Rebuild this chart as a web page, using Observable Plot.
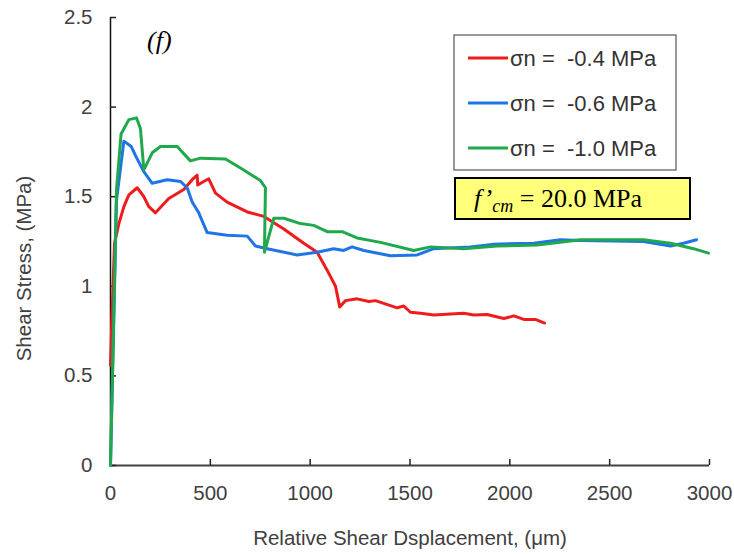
<!DOCTYPE html>
<html>
<head>
<meta charset="utf-8">
<script src="https://cdn.jsdelivr.net/npm/d3@7"></script>
<script src="https://cdn.jsdelivr.net/npm/@observablehq/plot@0.6"></script>
<style>
  html, body { margin: 0; padding: 0; background: #fff; }
  #chart svg { display: block; }
</style>
</head>
<body>
<div id="chart"></div>
<script>
// ---- data ----
const xTicks = [0, 500, 1000, 1500, 2000, 2500, 3000];
const yTicks = [0, 0.5, 1, 1.5, 2, 2.5];
const yTickLabels = ["0", "0.5", "1", "1.5", "2", "2.5"];
const seriesNames = ["σn =  -0.4 MPa", "σn =  -0.6 MPa", "σn =  -1.0 MPa"];
const seriesColors = ["#ef1c1c", "#1f74e6", "#1fa84c"];

const redDisp   = [0, 8, 20, 42, 67, 92, 134, 167, 192, 225, 292, 367, 409, 434, 437, 467, 492, 526, 584, 685, 768, 868, 968, 1035, 1085, 1127, 1148, 1177, 1235, 1294, 1327, 1436, 1469, 1502, 1553, 1619, 1769, 1820, 1886, 1970, 2020, 2070, 2128, 2174];
const redStress = [0.56, 0.85, 1.24, 1.35, 1.445, 1.51, 1.55, 1.50, 1.445, 1.41, 1.49, 1.54, 1.595, 1.62, 1.565, 1.585, 1.60, 1.52, 1.47, 1.415, 1.39, 1.32, 1.24, 1.19, 1.09, 1.00, 0.885, 0.92, 0.93, 0.915, 0.92, 0.88, 0.89, 0.855, 0.85, 0.84, 0.85, 0.84, 0.843, 0.82, 0.835, 0.815, 0.815, 0.795];

const blueDisp   = [0, 30, 67, 104, 125, 167, 209, 284, 351, 384, 409, 442, 484, 584, 685, 726, 785, 935, 1035, 1118, 1168, 1210, 1269, 1402, 1536, 1619, 1803, 1920, 2120, 2254, 2354, 2670, 2805, 2870, 2935];
const blueStress = [0, 1.48, 1.81, 1.78, 1.73, 1.64, 1.575, 1.595, 1.585, 1.55, 1.47, 1.41, 1.30, 1.285, 1.28, 1.225, 1.21, 1.175, 1.19, 1.21, 1.20, 1.22, 1.20, 1.17, 1.175, 1.21, 1.22, 1.235, 1.24, 1.26, 1.255, 1.25, 1.225, 1.24, 1.26];

const greenDisp   = [0, 30, 53, 92, 130, 150, 167, 209, 250, 334, 400, 451, 576, 651, 751, 776, 771, 818, 868, 951, 1018, 1085, 1160, 1235, 1352, 1519, 1603, 1769, 1936, 2137, 2354, 2504, 2670, 2805, 2920, 2995];
const greenStress = [0, 1.54, 1.85, 1.93, 1.94, 1.88, 1.65, 1.745, 1.78, 1.78, 1.70, 1.715, 1.71, 1.66, 1.59, 1.55, 1.19, 1.38, 1.38, 1.35, 1.34, 1.305, 1.305, 1.27, 1.245, 1.20, 1.22, 1.21, 1.225, 1.23, 1.26, 1.26, 1.26, 1.24, 1.21, 1.185];

const xTitle = "Relative Shear Dsplacement, (μm)";
const yTitle = "Shear Stress, (MPa)";
const panelLabel = "(f)";

// ---- build tables ----
const toRows = (xs, ys, s) => xs.map((x, i) => ({x, y: ys[i], s}));
const rows = [
  ...toRows(redDisp, redStress, seriesNames[0]),
  ...toRows(blueDisp, blueStress, seriesNames[1]),
  ...toRows(greenDisp, greenStress, seriesNames[2])
];

const sans = "'Liberation Sans', Arial, sans-serif";
const serif = "'Liberation Serif', 'Times New Roman', serif";
const labelColor = "#404040";
const axisFont = 20.5;

const chart = Plot.plot({
  width: 734,
  height: 554,
  marginLeft: 110,
  marginRight: 25,
  marginTop: 17,
  marginBottom: 89,
  style: {fontFamily: sans, background: "#fff", overflow: "visible"},
  x: {domain: [0, 3000]},
  y: {domain: [0, 2.5]},
  color: {domain: seriesNames, range: seriesColors},
  marks: [
    Plot.ruleY([0], {stroke: "#404040", strokeWidth: 2}),
    Plot.ruleX([0], {stroke: "#111", strokeWidth: 1.5}),
    // inward tick marks
    Plot.ruleX(xTicks, {x: (d) => d, y1: 0, y2: 0, insetTop: -6, stroke: "#222", strokeWidth: 1.5}),
    Plot.ruleY(yTicks, {y: (d) => d, x1: 0, x2: 0, insetRight: -6, stroke: "#222", strokeWidth: 1.5}),
    // tick labels
    Plot.axisX(xTicks, {tickSize: 0, tickPadding: 20, fontSize: axisFont, fill: labelColor, label: null,
      tickFormat: (d) => String(d)}),
    Plot.axisY(yTicks, {tickSize: 0, tickPadding: 18, fontSize: axisFont, fill: labelColor, label: null,
      tickFormat: (d) => yTickLabels[yTicks.indexOf(d)]}),
    Plot.line(rows, {x: "x", y: "y", z: "s", stroke: "s", strokeWidth: 3, strokeLinejoin: "round", strokeLinecap: "round"}),
    Plot.text([xTitle], {frameAnchor: "bottom", dy: 73, lineAnchor: "middle", textAnchor: "middle",
      fontSize: axisFont, fill: labelColor, text: (d) => d}),
    Plot.text([yTitle], {frameAnchor: "left", dx: -86, dy: 27, rotate: -90, textAnchor: "middle", lineAnchor: "middle",
      fontSize: axisFont, fill: labelColor, text: (d) => d})
  ]
});

document.getElementById("chart").appendChild(chart);

// ---- annotations: panel label, legend, strength box ----
const svg = d3.select(chart);
svg.append("text")
  .attr("x", 147).attr("y", 49)
  .attr("text-anchor", "start")
  .attr("font-family", serif).attr("font-style", "italic").attr("font-size", 26)
  .attr("fill", "#000")
  .text(panelLabel);

const lg = svg.append("g");
lg.append("rect")
  .attr("x", 454).attr("y", 35).attr("width", 222).attr("height", 135)
  .attr("fill", "#fff").attr("stroke", "#555").attr("stroke-width", 1.2);
seriesNames.forEach((name, i) => {
  const cy = 58 + i * 45;
  lg.append("line")
    .attr("x1", 468).attr("x2", 508).attr("y1", cy).attr("y2", cy)
    .attr("stroke", seriesColors[i]).attr("stroke-width", 3);
  lg.append("text")
    .attr("x", 510).attr("y", cy).attr("dy", "0.35em")
    .attr("text-anchor", "start")
    .attr("font-family", sans).attr("font-size", 22).attr("fill", "#333")
    .style("white-space", "pre")
    .text(name);
});

const fb = svg.append("g");
fb.append("rect")
  .attr("x", 455).attr("y", 178).attr("width", 235).attr("height", 41)
  .attr("fill", "#ffff7a").attr("stroke", "#000").attr("stroke-width", 2);
const ft = fb.append("text")
  .attr("x", 474).attr("y", 207)
  .attr("text-anchor", "start")
  .attr("font-family", serif).attr("font-size", 26).attr("fill", "#000");
ft.append("tspan").attr("font-style", "italic").text("f’");
ft.append("tspan").attr("font-style", "italic").attr("font-size", 18).attr("dy", 5).text("cm");
ft.append("tspan").attr("dy", -5).text(" = 20.0 MPa");
</script>
</body>
</html>
